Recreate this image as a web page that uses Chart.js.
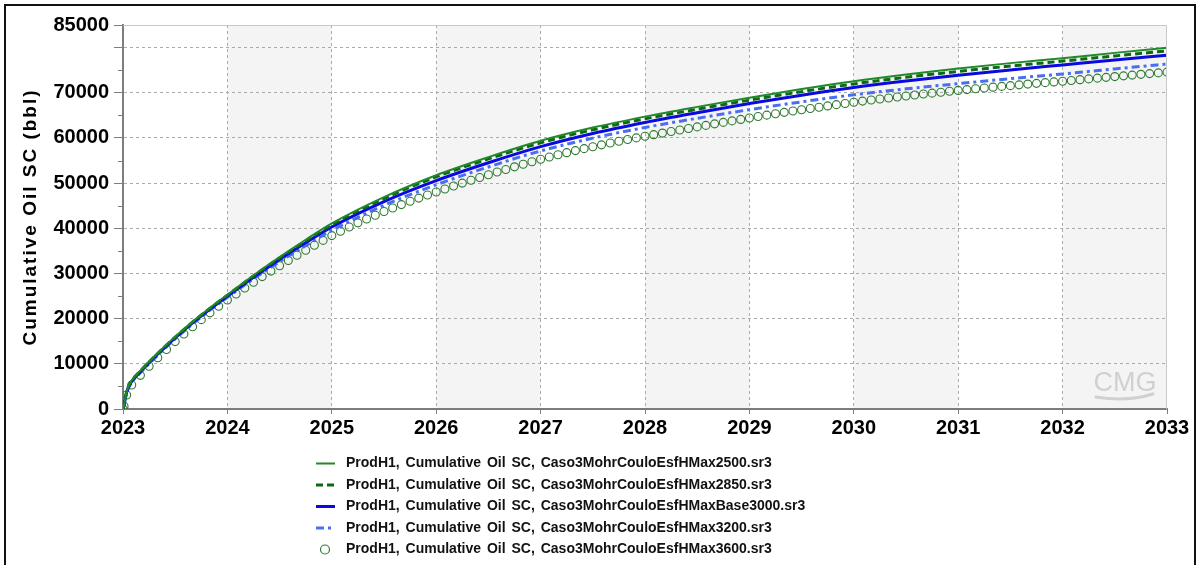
<!DOCTYPE html>
<html>
<head>
<meta charset="utf-8">
<script src="https://cdn.jsdelivr.net/npm/chart.js@4.4.1/dist/chart.umd.min.js"></script>
<style>
  html, body { margin: 0; padding: 0; background: #ffffff; }
  canvas { display: block; }
</style>
</head>
<body>
<canvas id="chart" width="1200" height="565"></canvas>
<script>
// Simulation output times, in months after 1 Jan 2023
const circleMonths = [0, 0.12, 0.42, ...Array.from({ length: 120 }, (_, i) => i + 1)];
const lineMonths = [0, 0.12, 0.42, 1, 2, 3, 4, 5, 6, 8, 10, 12, 15, 18, 21, 24,
  30, 36, 42, 48, 54, 60, 66, 72, 78, 84, 90, 96, 102, 108, 114, 120];

// Cumulative oil (bbl) for each run
const oilHMax2500 = [0, 900, 3900, 6300, 8500, 10500, 12400, 14250, 16020, 19340, 22430, 25300,
  29610, 33650, 37460, 41080, 46905, 51740, 55750, 59370, 62290, 64720, 66875, 68920,
  70820, 72560, 74040, 75370, 76560, 77660, 78830, 79970];
const oilHMax2850 = [0, 880, 3850, 6230, 8400, 10410, 12320, 14150, 15910, 19230, 22310, 25180,
  29450, 33450, 37200, 40780, 46585, 51390, 55350, 58920, 61810, 64220, 66345, 68370,
  70240, 71960, 73420, 74720, 75910, 77010, 78160, 79270];
const oilHMaxBase3000 = [0, 850, 3750, 6080, 8250, 10260, 12165, 13990, 15745, 19050, 22120, 24980,
  29170, 33100, 36780, 40280, 45905, 50540, 54500, 58070, 60990, 63420, 65575, 67620,
  69470, 71160, 72590, 73870, 75060, 76160, 77260, 78320];
const oilHMax3200 = [0, 800, 3600, 5860, 8020, 10025, 11930, 13755, 15510, 18812, 21876, 24730,
  28800, 32595, 36150, 39530, 45080, 49640, 53575, 57120, 59960, 62320, 64345, 66270,
  67990, 69560, 70865, 72020, 73130, 74160, 75280, 76370];
const oilHMax3600 = [0, 600, 3100,
  5300, 7450, 9450, 11350, 13170, 14920, 16600, 18220, 19780, 21280, 22730, 24130,
  25470, 26780, 28060, 29310, 30530, 31720, 32880, 34020, 35140, 36240, 37320, 38380,
  39360, 40300, 41200, 42065, 42900, 43705, 44485, 45240, 45970, 46680, 47370, 48040,
  48705, 49360, 50000, 50630, 51245, 51850, 52445, 53030, 53605, 54170, 54725, 55270,
  55780, 56270, 56740, 57195, 57635, 58060, 58470, 58870, 59260, 59640, 60010, 60370,
  60725, 61075, 61420, 61765, 62105, 62445, 62780, 63115, 63445, 63775, 64100, 64420,
  64740, 65050, 65360, 65660, 65950, 66240, 66530, 66810, 67090, 67370, 67640, 67910,
  68150, 68390, 68630, 68850, 69070, 69290, 69510, 69720, 69920, 70120, 70320, 70520,
  70700, 70890, 71070, 71240, 71410, 71580, 71750, 71920, 72080, 72240, 72400, 72560,
  72730, 72900, 73070, 73240, 73410, 73580, 73740, 73910, 74080, 74240, 74400, 74570];

const runLabels = [
  'ProdH1, Cumulative Oil SC, Caso3MohrCouloEsfHMax2500.sr3',
  'ProdH1, Cumulative Oil SC, Caso3MohrCouloEsfHMax2850.sr3',
  'ProdH1, Cumulative Oil SC, Caso3MohrCouloEsfHMaxBase3000.sr3',
  'ProdH1, Cumulative Oil SC, Caso3MohrCouloEsfHMax3200.sr3',
  'ProdH1, Cumulative Oil SC, Caso3MohrCouloEsfHMax3600.sr3'
];

const yearTicks = [2023, 2024, 2025, 2026, 2027, 2028, 2029, 2030, 2031, 2032, 2033];
const shadedYears = [2024, 2026, 2028, 2030, 2032];
const oilTicks = [0, 10000, 20000, 30000, 40000, 50000, 60000, 70000, 80000, 85000];
const hiddenOilLabels = [80000];
const yTitle = 'Cumulative Oil SC (bbl)';

const toPoints = (months, values) => months.map((m, i) => ({ x: 2023 + m / 12, y: values[i] }));

const FONT = '"Liberation Sans", Arial, sans-serif';
const GRID = '#ababab';
const AXIS = '#7d7d7d';

// Alternating year bands behind the grid
const bandsPlugin = {
  id: 'bands',
  beforeDraw(chart) {
    const { ctx, chartArea: a, scales: { x } } = chart;
    ctx.save();
    ctx.fillStyle = '#f4f4f4';
    shadedYears.forEach(yr => {
      const x1 = x.getPixelForValue(yr);
      const x2 = x.getPixelForValue(yr + 1);
      ctx.fillRect(x1, a.top, x2 - x1, a.bottom - a.top);
    });
    ctx.restore();
  }
};

// Frame, minor ticks, axis title, logo, legend and page border
const decorPlugin = {
  id: 'decor',
  afterDraw(chart) {
    const { ctx, chartArea: a, scales: { y } } = chart;
    ctx.save();

    // light top / right edges of the plot
    ctx.strokeStyle = '#c8c8c8';
    ctx.lineWidth = 1;
    ctx.beginPath();
    ctx.moveTo(a.left, a.top + 0.5);
    ctx.lineTo(a.right - 0.5, a.top + 0.5);
    ctx.lineTo(a.right - 0.5, a.bottom);
    ctx.stroke();

    // minor ticks on the value axis
    ctx.strokeStyle = AXIS;
    ctx.lineWidth = 1;
    oilTicks.slice(0, -2).forEach(v => {
      const py = Math.round(y.getPixelForValue(v + 5000)) + 0.5;
      ctx.beginPath();
      ctx.moveTo(a.left - 5, py);
      ctx.lineTo(a.left, py);
      ctx.stroke();
    });

    // value axis title
    ctx.save();
    ctx.translate(31, (a.top + a.bottom) / 2);
    ctx.rotate(-Math.PI / 2);
    ctx.font = 'bold 19px ' + FONT;
    ctx.letterSpacing = '2px';
    ctx.fillStyle = '#000';
    ctx.textAlign = 'center';
    ctx.textBaseline = 'middle';
    ctx.fillText(yTitle, 0, 0);
    ctx.restore();

    // CMG mark
    ctx.save();
    ctx.fillStyle = '#d0d0d0';
    ctx.strokeStyle = '#d0d0d0';
    ctx.font = '27px ' + FONT;
    ctx.textAlign = 'center';
    ctx.textBaseline = 'alphabetic';
    ctx.fillText('CMG', a.right - 42, a.bottom - 18);
    ctx.lineWidth = 3;
    ctx.lineCap = 'round';
    ctx.beginPath();
    ctx.moveTo(a.right - 71, a.bottom - 12);
    ctx.quadraticCurveTo(a.right - 40, a.bottom - 7, a.right - 14, a.bottom - 15);
    ctx.stroke();
    ctx.restore();

    // legend
    ctx.font = 'bold 14px ' + FONT;
    ctx.wordSpacing = '2px';
    ctx.textBaseline = 'middle';
    ctx.textAlign = 'left';
    chart.data.datasets.forEach((ds, i) => {
      const ly = 463.5 + i * 21.5;
      if (ds.showLine === false) {
        ctx.beginPath();
        ctx.setLineDash([]);
        ctx.arc(325, ly, 4.5, 0, Math.PI * 2);
        ctx.strokeStyle = ds.pointBorderColor;
        ctx.lineWidth = 1.2;
        ctx.stroke();
      } else {
        ctx.beginPath();
        ctx.setLineDash(ds.borderDash || []);
        ctx.moveTo(316, ly);
        ctx.lineTo(335, ly);
        ctx.strokeStyle = ds.borderColor;
        ctx.lineWidth = ds.borderWidth;
        ctx.stroke();
        ctx.setLineDash([]);
      }
      ctx.fillStyle = '#111';
      ctx.fillText(ds.label, 346, ly);
    });
    ctx.wordSpacing = '0px';

    // page border
    ctx.strokeStyle = '#111';
    ctx.lineWidth = 2;
    ctx.strokeRect(5, 5, 1190, 600);
    ctx.restore();
  }
};

new Chart(document.getElementById('chart'), {
  type: 'line',
  data: {
    datasets: [
      {
        label: runLabels[0], data: toPoints(lineMonths, oilHMax2500),
        borderColor: '#22892a', borderWidth: 2, pointRadius: 0,
        cubicInterpolationMode: 'monotone'
      },
      {
        label: runLabels[1], data: toPoints(lineMonths, oilHMax2850),
        borderColor: '#0c6a12', borderWidth: 3, borderDash: [7, 4], pointRadius: 0,
        cubicInterpolationMode: 'monotone'
      },
      {
        label: runLabels[2], data: toPoints(lineMonths, oilHMaxBase3000),
        borderColor: '#0a0ae0', borderWidth: 3, pointRadius: 0,
        cubicInterpolationMode: 'monotone'
      },
      {
        label: runLabels[3], data: toPoints(lineMonths, oilHMax3200),
        borderColor: '#4a6ef0', borderWidth: 3, borderDash: [8, 4, 3, 4], pointRadius: 0,
        cubicInterpolationMode: 'monotone'
      },
      {
        label: runLabels[4], data: toPoints(circleMonths, oilHMax3600),
        showLine: false, pointStyle: 'circle', pointRadius: 4,
        pointBorderColor: '#2f7a30', pointBackgroundColor: 'rgba(0,0,0,0)', pointBorderWidth: 1.1
      }
    ]
  },
  options: {
    responsive: false,
    animation: false,
    devicePixelRatio: 1,
    layout: { padding: { left: 0, top: 25, right: 33, bottom: 0 } },
    plugins: { legend: { display: false }, tooltip: { enabled: false } },
    scales: {
      x: {
        type: 'linear', min: 2023, max: 2033,
        afterBuildTicks: s => { s.ticks = yearTicks.map(v => ({ value: v })); },
        afterFit: s => { s.height = 156; },
        ticks: {
          callback: v => String(v), color: '#000', padding: 2, maxRotation: 0,
          autoSkip: false, font: { family: FONT, size: 20, weight: 'bold' }
        },
        grid: {
          color: c => (c.tick && (c.tick.value === 2023 || c.tick.value === 2033)) ? 'rgba(0,0,0,0)' : GRID,
          tickColor: AXIS, tickLength: 5, lineWidth: 1
        },
        border: { display: true, color: AXIS, width: 2, dash: [3, 3] }
      },
      y: {
        min: 0, max: 85000,
        afterBuildTicks: s => { s.ticks = oilTicks.map(v => ({ value: v })); },
        afterFit: s => { s.width = 123; },
        ticks: {
          callback: v => hiddenOilLabels.includes(v) ? '' : String(v),
          color: '#000', padding: 5, autoSkip: false,
          font: { family: FONT, size: 20, weight: 'bold' }
        },
        grid: {
          color: c => (c.tick && (c.tick.value === 0 || c.tick.value === 85000)) ? 'rgba(0,0,0,0)' : GRID,
          tickColor: AXIS, tickLength: 9, lineWidth: 1
        },
        border: { display: true, color: AXIS, width: 2, dash: [3, 3] }
      }
    }
  },
  plugins: [bandsPlugin, decorPlugin]
});
</script>
</body>
</html>
